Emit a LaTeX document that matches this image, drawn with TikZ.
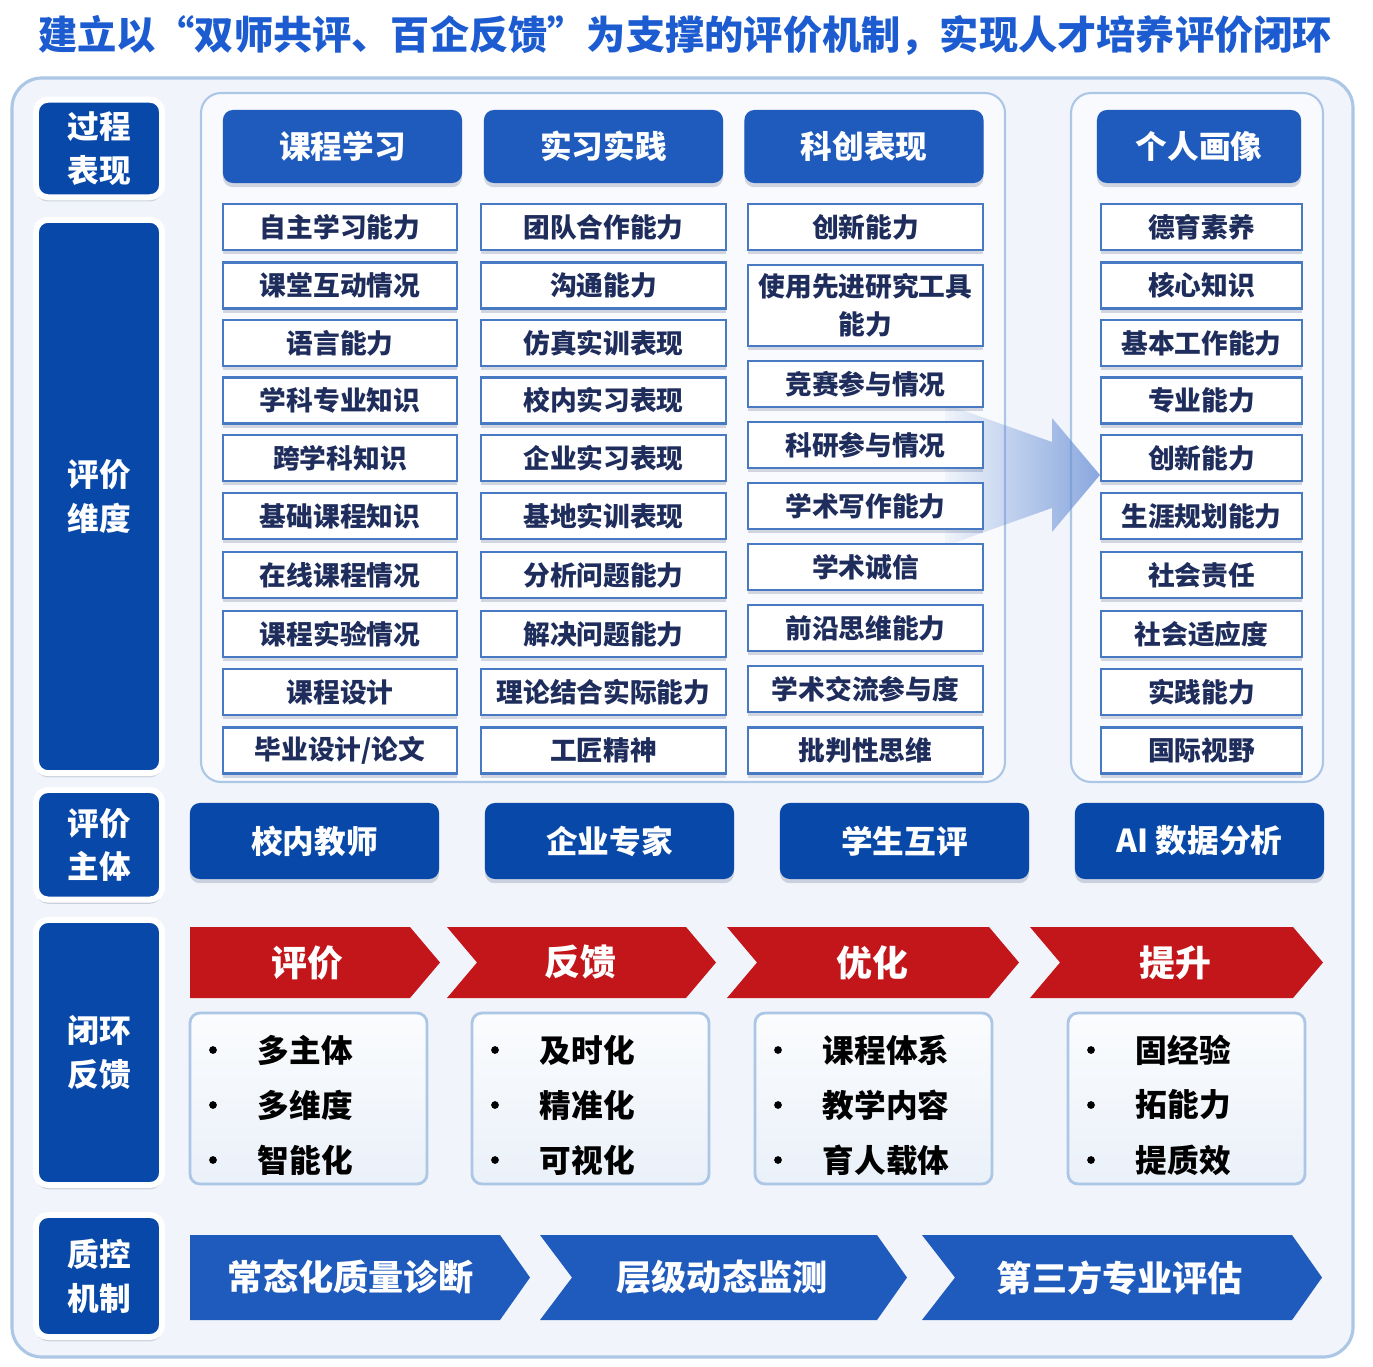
\documentclass[tikz,border=0pt]{standalone}
\usepackage{fontspec}
\setmainfont{Noto Sans CJK SC}
\usetikzlibrary{shadows}
\usetikzlibrary{fadings}
\definecolor{titleblue}{RGB}{28,92,208}
\definecolor{darkblue}{RGB}{8,72,168}
\definecolor{midblue}{RGB}{31,90,189}
\definecolor{navy}{RGB}{30,45,92}
\definecolor{edgeblue}{RGB}{72,122,196}
\definecolor{lineblue}{RGB}{172,198,230}
\definecolor{bgblue}{RGB}{241,245,251}
\definecolor{boxred}{RGB}{194,22,26}
\definecolor{arrowblue}{RGB}{100,140,212}
\tikzfading[name=arrowfade, left color=transparent!95, right color=transparent!25]

\begin{document}
\begin{tikzpicture}[x=0.01cm,y=-0.01cm,
    softshadow/.style={drop shadow={shadow xshift=0pt,shadow yshift=-1.2pt,opacity=0.18,fill=navy}},
    labelbox/.style={draw=white,line width=1.7pt,fill=darkblue,rounded corners=0.12cm,text=white,
      font=\bfseries\fontsize{9}{12.4}\selectfont,align=center,minimum width=1.26cm,inner sep=0pt,softshadow},
    headbox/.style={fill=midblue,rounded corners=0.1cm,text=white,font=\bfseries\fontsize{9}{11}\selectfont,
      minimum height=0.73cm,inner sep=0pt,softshadow},
    itembox/.style={draw=edgeblue,line width=0.6pt,fill=white,text=navy,font=\bfseries\fontsize{7.6}{10.8}\selectfont,
      align=center,minimum height=0.46cm,inner sep=0pt,softshadow},
    whobox/.style={fill=darkblue,rounded corners=0.1cm,text=white,font=\bfseries\fontsize{9}{11}\selectfont,
      minimum width=2.49cm,minimum height=0.76cm,inner sep=0pt,softshadow},
    panel/.style={draw=lineblue,line width=0.6pt,fill=bgblue!50!white,rounded corners=0.2cm},
    fbox/.style={draw=lineblue,line width=0.8pt,rounded corners=0.1cm,top color=white!70!bgblue,bottom color=bgblue!70!lineblue!60},
    steptext/.style={text=white,font=\bfseries\fontsize{10.2}{12}\selectfont,inner sep=0pt},
    bullettext/.style={anchor=west,font=\bfseries\fontsize{9}{11}\selectfont,inner sep=0pt}]
  \useasboundingbox (0,0) rectangle (1373,1367);
  \node[font=\bfseries\fontsize{11.15}{13}\selectfont,text=titleblue] (title) at (685,35)
    {建立以“双师共评、百企反馈”为支撑的评价机制，实现人才培养评价闭环};
  \draw[lineblue,line width=0.9pt,fill=bgblue,rounded corners=0.3cm] (12,78) rectangle (1353,1357);

  \node[labelbox,minimum height=0.975cm] (lab1) at (99,148.5) {过程\\表现};
  \node[labelbox,minimum height=5.53cm] (lab2) at (99,496.5) {评价\\维度};
  \node[labelbox,minimum height=1.095cm] (lab3) at (99,844.75) {评价\\主体};
  \node[labelbox,minimum height=2.65cm] (lab4) at (99,1052.5) {闭环\\反馈};
  \node[labelbox,minimum height=1.22cm] (lab5) at (99,1276) {质控\\机制};

  \draw[panel] (201,93) rectangle (1005,782);
  \draw[panel] (1071,93) rectangle (1323,782);
  \fill[arrowblue,path fading=arrowfade] (945,404) -- (1052,442) -- (1052,418) -- (1100,475)
    -- (1052,532) -- (1052,508) -- (945,546) -- cycle;

  \node[headbox,minimum width=2.39cm] (head1) at (342.5,146.5) {课程学习};
  \node[headbox,minimum width=2.39cm] (head2) at (603.5,146.5) {实习实践};
  \node[headbox,minimum width=2.39cm] (head3) at (864,146.5) {科创表现};
  \node[headbox,minimum width=2.04cm] (head4) at (1199,146.5) {个人画像};

  \foreach \y/\a/\b/\d [count=\i] in {227/自主学习能力/团队合作能力/德育素养, 285.5/课堂互动情况/沟通能力/核心知识,
      343/语言能力/仿真实训表现/基本工作能力, 400.5/学科专业知识/校内实习表现/专业能力,
      458/跨学科知识/企业实习表现/创新能力, 516/基础课程知识/基地实训表现/生涯规划能力,
      575/在线课程情况/分析问题能力/社会责任, 634/课程实验情况/解决问题能力/社会适应度,
      692/课程设计/理论结合实际能力/实践能力, 750.5/{毕业设计/论文}/工匠精神/国际视野} {
    \node[itembox,minimum width=2.34cm] (a\i) at (340,\y) {\a};
    \node[itembox,minimum width=2.45cm] (b\i) at (603.5,\y) {\b};
    \node[itembox,minimum width=2.01cm] (d\i) at (1201.5,\y) {\d};
  }
  \foreach \y/\h/\t [count=\i] in {227/0.46/创新能力, 305.5/0.81/使用先进研究工具\\能力, 384/0.46/竞赛参与情况,
      445/0.46/科研参与情况, 506/0.46/学术写作能力, 567/0.46/学术诚信, 628/0.46/前沿思维能力,
      689/0.46/学术交流参与度, 750.5/0.46/批判性思维}
    \node[itembox,minimum width=2.35cm,minimum height=\h cm] (c\i) at (865.5,\y) {\t};

  \node[whobox] (who1) at (314.5,841) {校内教师};
  \node[whobox] (who2) at (609.5,841) {企业专家};
  \node[whobox] (who3) at (904.5,841) {学生互评};
  \node[whobox] (who4) at (1199.5,841) {AI 数据分析};

  \foreach \l/\r/\d/\x/\t [count=\i] in {190/440/0/307/评价, 447/716/30/580/反馈, 727/1019/30/872/优化, 1030/1323/30/1175/提升} {
    \fill[boxred] (\l,927) -- ({\r-30},927) -- (\r,962.5) -- ({\r-30},998) -- (\l,998) -- ({\l+\d},962.5) -- cycle;
    \node[steptext] (loop\i) at (\x,962.5) {\t};
  }
  \foreach \l/\a/\b/\c [count=\i] in {190/多主体/多维度/智能化, 472/及时化/精准化/可视化,
      755/课程体系/教学内容/育人载体, 1068/固经验/拓能力/提质效} {
    \draw[fbox] (\l,1013) rectangle ({\l+237},1184);
    \foreach \t [count=\j] in {\a,\b,\c} {
      \fill ({\l+23},{995+55*\j}) circle (1.1pt);
      \node[bullettext] (fb\i-\j) at ({\l+67},{995+55*\j}) {\t};
    }
  }
  \foreach \l/\r/\d/\x/\t [count=\i] in {190/530/0/351/常态化质量诊断, 540/907/32/722/层级动态监测, 922/1322/33/1120/第三方专业评估} {
    \fill[midblue] (\l,1235) -- ({\r-30},1235) -- (\r,1277.5) -- ({\r-30},1320) -- (\l,1320) -- ({\l+\d},1277.5) -- cycle;
    \node[steptext,font=\bfseries\fontsize{10}{12}\selectfont] (qc\i) at (\x,1277.5) {\t};
  }
\end{tikzpicture}
\end{document}
